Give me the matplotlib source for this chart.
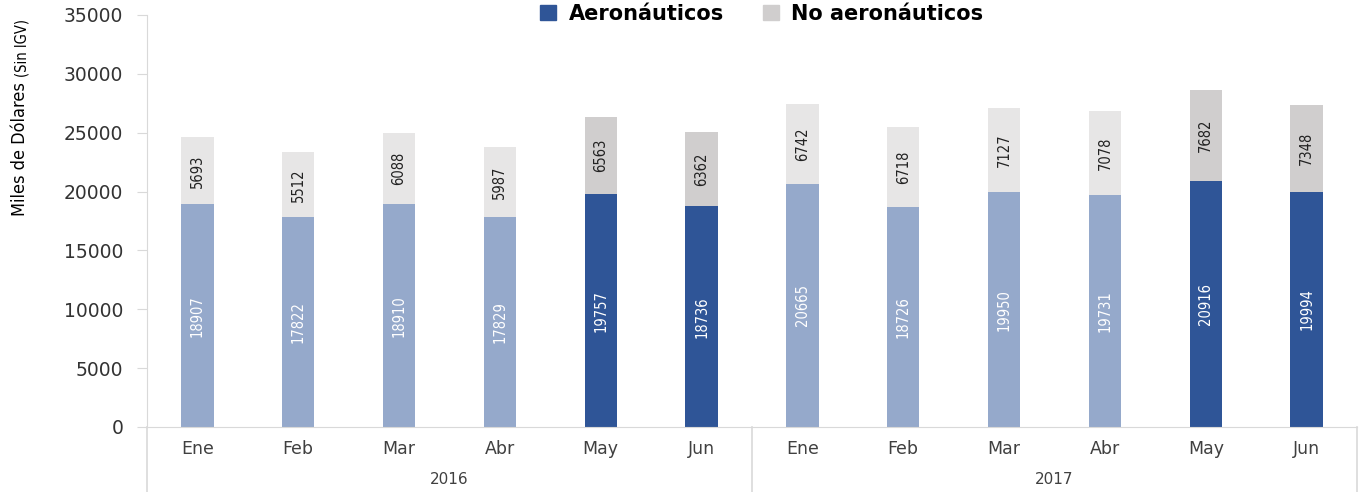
import numpy as np
import matplotlib.pyplot as plt
from matplotlib.patches import Patch

months = ['Ene', 'Feb', 'Mar', 'Abr', 'May', 'Jun'] * 2
years = ['2016', '2017']
aeronauticos = [18907, 17822, 18910, 17829, 19757, 18736,
                20665, 18726, 19950, 19731, 20916, 19994]
no_aeronauticos = [5693, 5512, 6088, 5987, 6563, 6362,
                   6742, 6718, 7127, 7078, 7682, 7348]
destacado = [False, False, False, False, True, True] * 2

DARK_BLUE = '#2F5597'
LIGHT_BLUE = '#95A9CB'
DARK_GREY = '#D0CECE'
LIGHT_GREY = '#E7E6E6'
AXIS_GREY = '#D9D9D9'

plt.rcParams['font.family'] = ['DejaVu Sans']

fig = plt.figure(figsize=(13.6, 4.92), dpi=100)
ax = fig.add_axes([147 / 1360, 65 / 492, 1210 / 1360, 412 / 492])

x = np.arange(len(months))
c_aero = [DARK_BLUE if d else LIGHT_BLUE for d in destacado]
c_noaero = [DARK_GREY if d else LIGHT_GREY for d in destacado]

ax.bar(x, aeronauticos, width=0.32, color=c_aero)
ax.bar(x, no_aeronauticos, width=0.32, bottom=aeronauticos, color=c_noaero)

for i in range(len(x)):
    a = aeronauticos[i]
    n = no_aeronauticos[i]
    ax.text(x[i], a / 2, str(a), rotation=90, ha='center', va='center',
            color='white', fontsize=10.5, stretch='condensed')
    ax.text(x[i], a + n / 2, str(n), rotation=90, ha='center', va='center',
            color='#222222', fontsize=10.5, stretch='condensed')

ax.set_xlim(-0.5, len(x) - 0.5)
ax.set_ylim(0, 35000)
ax.set_yticks(np.arange(0, 35001, 5000))
ax.tick_params(axis='y', length=7, color=AXIS_GREY, labelsize=13.5,
               labelcolor='#333333', pad=10)
ax.set_xticks(x)
ax.set_xticklabels(months)
ax.tick_params(axis='x', length=0, labelsize=12.5, labelcolor='#404040', pad=9)

for s in ['top', 'right']:
    ax.spines[s].set_visible(False)
ax.spines['bottom'].set_color(AXIS_GREY)
ax.spines['left'].set_color(AXIS_GREY)
ax.spines['left'].set_bounds(0, 35000)

# category axis: group separators and year labels below the months
drop = -65 / 412
for xv in [0, 0.5, 1.0]:
    ax.plot([xv, xv], [0, drop], transform=ax.transAxes, color=AXIS_GREY,
            lw=1.2, clip_on=False)
for k, yr in enumerate(years):
    ax.text(0.25 + 0.5 * k, -52 / 412, yr, transform=ax.transAxes,
            ha='center', va='center', fontsize=11, color='#404040')

# y axis title with the smaller note
fig.text(20 / 1360, 1 - 149 / 492, 'Miles de Dólares', rotation=90,
         ha='center', va='center', fontsize=13, stretch='condensed')
fig.text(22 / 1360, 1 - 48 / 492, '(Sin IGV)', rotation=90,
         ha='center', va='center', fontsize=10.5, stretch='condensed')

handles = [Patch(color=DARK_BLUE, label='Aeronáuticos'),
           Patch(color=DARK_GREY, label='No aeronáuticos')]
fig.legend(handles=handles, loc='center', bbox_to_anchor=(762 / 1360, 1 - 14 / 492),
           ncol=2, frameon=False, prop={'weight': 'bold', 'size': 15},
           handlelength=0.75, handleheight=0.75, columnspacing=1.9, handletextpad=0.6)

fig.savefig('out.png', dpi=100)
